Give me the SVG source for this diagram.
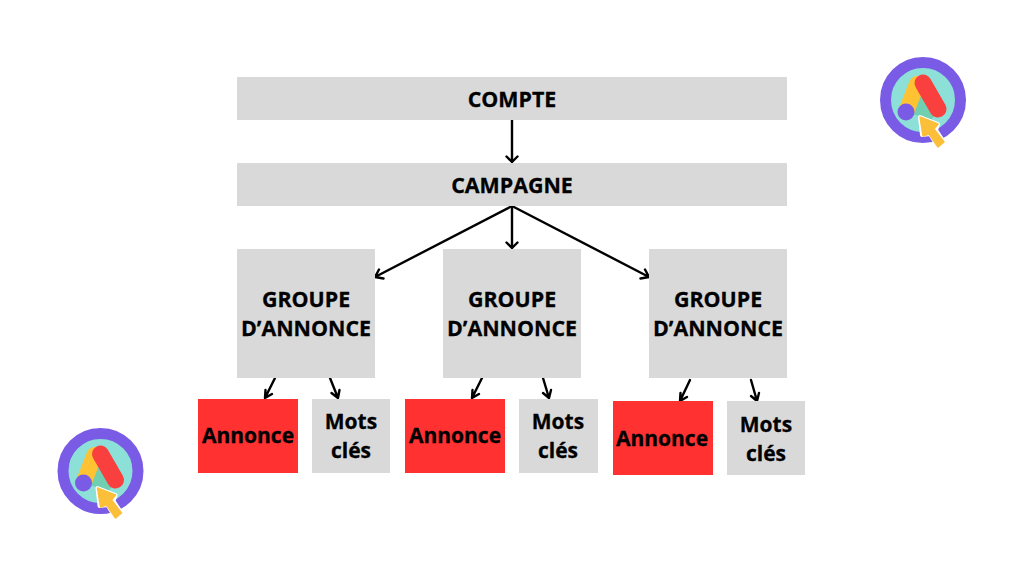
<svg xmlns="http://www.w3.org/2000/svg" width="1024" height="576" viewBox="0 0 1024 576">
<style>
.g{fill:#d9d9d9}.r{fill:#ff3131}
text{font-family:"Open Sans","Noto Sans","Liberation Sans",sans-serif;font-weight:700;fill:#000;stroke:#000;stroke-width:.3px;text-anchor:middle}
.t{font-size:21.400px}.s{font-size:21px}
.c path{fill:none;stroke:#000;stroke-width:2.400;stroke-linecap:round;stroke-linejoin:round}
</style>
<defs>
<g id="logo">
<circle cx="0" cy="0" r="37.500" fill="#8ce0d8" stroke="#7a5be6" stroke-width="11"/>
<path d="M-4-14 L-17 12 L8 20 L14 12Z" fill="#6fcfb0"/>
<path d="M-6-16 L-17 12" stroke="#ffc233" stroke-width="16" stroke-linecap="round"/>
<path d="M0-17 L15 9" stroke="#f9403f" stroke-width="17" stroke-linecap="round"/>
<circle cx="-17" cy="12" r="8.500" fill="#7a5be6"/>
<path d="M-3 17 L15 24 L13 30 L21 42 L15 47 L7 34 L-1 35Z" fill="#fff" stroke="#fff" stroke-width="4" stroke-linejoin="round"/>
<path d="M-3 17 L15 24 L11 29 L21 42 L15 47 L6 34 L0 36Z" fill="#fbbf3a" stroke="#fbbf3a" stroke-width="1.500" stroke-linejoin="round"/>
</g>
</defs>
<rect width="1024" height="576" fill="#fff"/>
<g class="c" id="connectors">
<path d="M512 120V162M506.500 156.500L512 162L517.500 156.500"/>
<path d="M512 206V248M506.500 242.500L512 248L517.500 242.500"/>
<path d="M512 206L375 277M379 269.500L375 277L383.500 278.500"/>
<path d="M512 206L649 277M645 269.500L649 277L640.500 278.500"/>
<path d="M275 378L265 398M265.500 390L265 398L272 394"/>
<path d="M330 378L338 398M331.500 393L338 398L339.500 390"/>
<path d="M482 378L472 398M472.500 390L472 398L479 394"/>
<path d="M543 378L549 398M543 393L549 398L551 390"/>
<path d="M690 380L680 401M680.500 393L680 401L687 397"/>
<path d="M751 380L757 401M751 396L757 401L759 393"/>
</g>
<g id="compte"><rect class="g" x="237" y="77" width="550" height="43"/><text class="t" x="512" y="106.500">COMPTE</text></g>
<g id="campagne"><rect class="g" x="237" y="163" width="550" height="43"/><text class="t" x="512" y="192.500">CAMPAGNE</text></g>
<g id="groupe1"><rect class="g" x="237" y="249" width="138" height="129"/><text class="t" x="306" y="307">GROUPE</text><text class="t" x="306" y="336">D’ANNONCE</text></g>
<g id="groupe2"><rect class="g" x="443" y="249" width="138" height="129"/><text class="t" x="512" y="307">GROUPE</text><text class="t" x="512" y="336">D’ANNONCE</text></g>
<g id="groupe3"><rect class="g" x="649" y="249" width="138" height="129"/><text class="t" x="718" y="307">GROUPE</text><text class="t" x="718" y="336">D’ANNONCE</text></g>
<g id="annonce1"><rect class="r" x="198" y="399" width="100" height="74"/><text class="s" x="248" y="443">Annonce</text></g>
<g id="mots1"><rect class="g" x="312" y="399" width="78" height="74"/><text class="s" x="351" y="429">Mots</text><text class="s" x="351" y="458">clés</text></g>
<g id="annonce2"><rect class="r" x="405" y="399" width="100" height="74"/><text class="s" x="455" y="443">Annonce</text></g>
<g id="mots2"><rect class="g" x="519" y="399" width="79" height="74"/><text class="s" x="558" y="429">Mots</text><text class="s" x="558" y="458">clés</text></g>
<g id="annonce3"><rect class="r" x="613" y="401" width="100" height="74"/><text class="s" x="662" y="446">Annonce</text></g>
<g id="mots3"><rect class="g" x="727" y="401" width="78" height="74"/><text class="s" x="766" y="432">Mots</text><text class="s" x="766" y="461">clés</text></g>
<use id="logo-top" href="#logo" x="923" y="100"/>
<use id="logo-bottom" href="#logo" x="100.500" y="471"/>
</svg>
